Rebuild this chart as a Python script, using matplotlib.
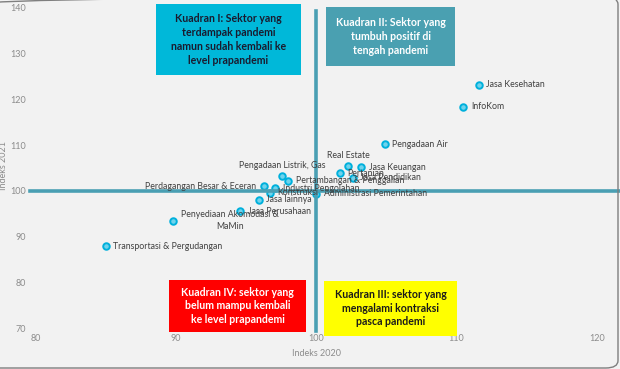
import matplotlib
matplotlib.use("Agg")
import matplotlib.pyplot as plt
from matplotlib.patches import FancyBboxPatch, Rectangle

sectors = ["Jasa Kesehatan", "InfoKom", "Pengadaan Air", "Real Estate", "Jasa Keuangan",
           "Pertanian", "Jasa Pendidikan", "Administrasi Pemerintahan",
           "Pengadaan Listrik, Gas", "Pertambangan & Penggalian", "Industri Pengolahan",
           "Perdagangan Besar & Eceran", "Konstruksi", "Jasa lainnya", "Jasa Perusahaan",
           "Penyediaan Akomodasi &\nMaMin", "Transportasi & Pergudangan"]
indeks_2020 = [111.6, 110.5, 104.9, 102.3, 103.2, 101.7, 102.6, 100.0,
               97.6, 98.0, 97.1, 96.3, 96.7, 95.9, 94.6, 89.8, 85.0]
indeks_2021 = [123.2, 118.4, 110.2, 105.4, 105.2, 103.9, 102.9, 99.4,
               103.2, 102.2, 100.6, 101.0, 99.6, 98.1, 95.5, 93.5, 87.9]
label_side = ["r", "r", "r", "a", "r", "r", "r", "r",
              "a", "r", "r", "l", "r", "r", "r", "r", "r"]
x_ticks = [80, 90, 100, 110, 120]
y_ticks = [70, 80, 90, 100, 110, 120, 130, 140]

W, H = 620, 369
fig = plt.figure(figsize=(W / 100, H / 100), dpi=100)
fig.patch.set_facecolor("#f2f2f2")
plt.rcParams["font.family"] = ["Lato", "DejaVu Sans"]

# rounded chart border (partly off canvas)
border = FancyBboxPatch((-20 / W, 1 / H), (618 + 20) / W, (369 + 2) / H,
                        boxstyle="round,pad=0,rounding_size=0.02", transform=fig.transFigure,
                        facecolor="none", edgecolor="#7f7f7f", linewidth=1.0, zorder=0)
fig.patches.append(border)

left, right, top, bottom = 35.5, 596.7, 8, 328
ax = fig.add_axes([left / W, 1 - bottom / H, (right - left) / W, (bottom - top) / H])
ax.set_facecolor("none")
ax.set_xlim(80, 120)
ax.set_ylim(70, 140)
ax.set_xticks(x_ticks)
ax.set_yticks(y_ticks)
for s in ax.spines.values():
    s.set_visible(False)
ax.tick_params(length=0, labelsize=6.5, labelcolor="#8c8c8c")
ax.tick_params(axis="y", pad=7)
ax.tick_params(axis="x", pad=4)
ax.set_xlabel("Indeks 2020", fontsize=6.5, color="#8c8c8c", labelpad=5)
ax.set_ylabel("Indeks 2021", fontsize=6.5, color="#8c8c8c")
ax.yaxis.set_label_coords((8 - left) / (right - left), (bottom - 166) / (bottom - top))

# quadrant lines
line_c = "#4a9fb3"
ax.axvline(100, ymin=-0.01, ymax=0.99, color=line_c, lw=2.6, zorder=4, clip_on=False)
ax.axhline(100, xmin=-0.01, xmax=1.04, color=line_c, lw=2.6, zorder=4, clip_on=False)

ax.scatter(indeks_2020, indeks_2021, s=22, facecolor="#6fd3ec", edgecolor="#00b0dc",
           linewidth=1.4, zorder=3)

for name, x, y, side in zip(sectors, indeks_2020, indeks_2021, label_side):
    kw = dict(fontsize=6.3, color="#404040", zorder=5, textcoords="offset points")
    if side == "r":
        ax.annotate(name, (x, y), xytext=(5.5, 0), ha="left", va="center",
                    multialignment="center", linespacing=1.5, **kw)
    elif side == "l":
        ax.annotate(name, (x, y), xytext=(-5.5, 0), ha="right", va="center", **kw)
    else:
        ax.annotate(name, (x, y), xytext=(0, 4.5), ha="center", va="bottom", **kw)

def quad_box(x0, y0, x1, y1, color, text, tcolor):
    fx0, fx1 = (x0 - left) / (right - left), (x1 - left) / (right - left)
    fy0, fy1 = (bottom - y1) / (bottom - top), (bottom - y0) / (bottom - top)
    ax.add_patch(Rectangle((fx0, fy0), fx1 - fx0, fy1 - fy0, transform=ax.transAxes,
                           facecolor=color, edgecolor="none", zorder=6, clip_on=False))
    ax.text((fx0 + fx1) / 2, (fy0 + fy1) / 2, text, transform=ax.transAxes, ha="center",
            va="center", fontsize=7.6, fontweight="bold", color=tcolor, linespacing=1.3,
            zorder=7)

quad_box(156, 4, 300.7, 75, "#00b8d9",
         "Kuadran I: Sektor yang\nterdampak pandemi\nnamun sudah kembali ke\nlevel prapandemi",
         "#1a1a2e")
quad_box(326, 7, 455.3, 65.7, "#4aa0b1",
         "Kuadran II: Sektor yang\ntumbuh positif di\ntengah pandemi", "white")
quad_box(169.3, 280, 306, 331.7, "#ff0000",
         "Kuadran IV: sektor yang\nbelum mampu kembali\nke level prapandemi", "white")
quad_box(324, 280.7, 457.3, 335.7, "#ffff00",
         "Kuadran III: sektor yang\nmengalami kontraksi\npasca pandemi", "#1a1a1a")

fig.savefig("out.png", dpi=100, facecolor=fig.get_facecolor())
